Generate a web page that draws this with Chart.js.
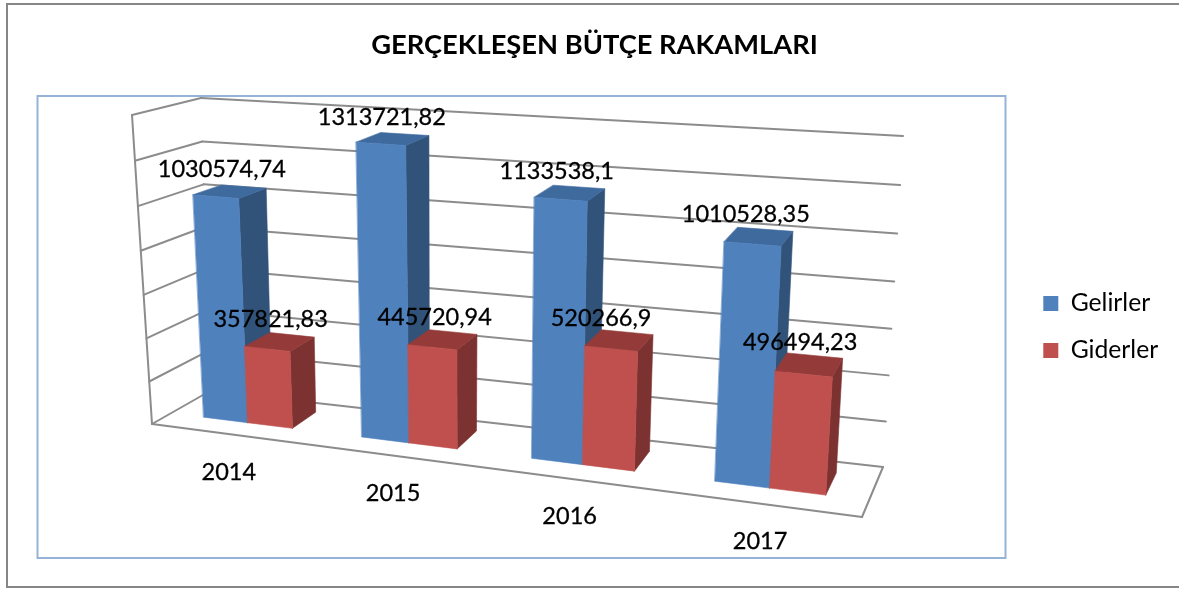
<!DOCTYPE html>
<html>
<head>
<meta charset="utf-8">
<style>
  html, body { margin: 0; padding: 0; background: #fff; }
  #wrap { width: 1179px; height: 590px; }
</style>
<script src="https://cdn.jsdelivr.net/npm/chart.js@4/dist/chart.umd.min.js"></script>
</head>
<body>
<div id="wrap"><canvas id="budget" width="1179" height="590"></canvas></div>
<script>
const years = ["2014", "2015", "2016", "2017"];
const gelirler = [1030574.74, 1313721.82, 1133538.1, 1010528.35];
const giderler = [357821.83, 445720.94, 520266.9, 496494.23];
const gelirlerText = ["1030574,74", "1313721,82", "1133538,1", "1010528,35"];
const giderlerText = ["357821,83", "445720,94", "520266,9", "496494,23"];
const axisMax = 1400000;
const axisStep = 200000;

// corners of the 3D box on screen (front/back, left/right, bottom/top)
const box = {
  fLB: [152, 424], fRB: [862, 517], fLT: [132, 115], fRT: [884, 165],
  bLB: [210, 391], bRB: [883, 467], bLT: [201, 98], bRT: [903, 136]
};
const barDepth = [0.33, 0.78];
const gridColor = "#8c8c8c";
const faces = [
  { front: "#4F81BD", top: "#3F6A9E", side: "#325379" },
  { front: "#C0504D", top: "#943B39", side: "#7C3230" }
];
// small nudges of the value labels, per series
const labelShiftX = [[-8, -11, -13, -13], [-9, -8, -18, -9]];
const labelShiftY = [-22, -22];

function mix(a, b, k) {
  return [a[0] + (b[0] - a[0]) * k, a[1] + (b[1] - a[1]) * k];
}

// t: 0..1 across the x axis, v: 0..1 up the y axis, d: 0 front .. 1 back
function project(t, v, d) {
  const u = t / (t + (1 - t) * 1.16);
  const h = v / (v + (1 - v) * 1.045);
  const front = mix(mix(box.fLB, box.fRB, u), mix(box.fLT, box.fRT, u), h);
  const back = mix(mix(box.bLB, box.bRB, u), mix(box.bLT, box.bRT, u), h);
  return mix(front, back, d);
}

function poly(ctx, pts, color) {
  ctx.beginPath();
  pts.forEach((p, i) => (i ? ctx.lineTo(p[0], p[1]) : ctx.moveTo(p[0], p[1])));
  ctx.closePath();
  ctx.fillStyle = color;
  ctx.strokeStyle = color;
  ctx.lineWidth = 0.6;
  ctx.fill();
  ctx.stroke();
}

function line(ctx, a, b) {
  ctx.beginPath();
  ctx.moveTo(a[0], a[1]);
  ctx.lineTo(b[0], b[1]);
  ctx.stroke();
}

function label(ctx, text, x, y) {
  ctx.fillText(text, x, y);
  ctx.strokeText(text, x, y);
}

const perspective = {
  id: "perspective",
  afterLayout(chart) {
    chart.titleBlock.left += 5;
    chart.titleBlock.right += 5;
    chart.legend.left = 1021;
    chart.legend.right = 1179;
    chart.legend.top += 32;
    chart.legend.bottom += 32;
  },
  beforeDraw(chart) {
    const ctx = chart.ctx;
    ctx.save();
    ctx.fillStyle = "#fff";
    ctx.fillRect(0, 0, chart.width, chart.height);
    ctx.lineWidth = 2;
    ctx.strokeStyle = "#868686";
    // the outer frame runs off the right edge of the picture
    ctx.beginPath();
    ctx.moveTo(1179, 4);
    ctx.lineTo(7, 4);
    ctx.lineTo(7, 587);
    ctx.lineTo(1179, 587);
    ctx.stroke();
    ctx.strokeStyle = "#95B3D7";
    ctx.strokeRect(37.5, 96, 968, 462);
    ctx.restore();
  },
  beforeDatasetsDraw(chart) {
    const ctx = chart.ctx;
    const area = chart.chartArea;
    const ys = chart.scales.y;
    const toT = x => (x - area.left) / area.width;
    const toV = y => (area.bottom - y) / area.height;

    ctx.save();
    ctx.lineCap = "round";
    ctx.lineJoin = "round";
    ctx.strokeStyle = gridColor;
    ctx.lineWidth = 2;
    ys.ticks.forEach(tick => {
      const v = toV(ys.getPixelForValue(tick.value));
      line(ctx, project(0, v, 0), project(0, v, 1));
      line(ctx, project(0, v, 1), project(1, v, 1));
    });
    line(ctx, project(0, 0, 0), project(0, 1, 0));
    line(ctx, project(0, 0, 0), project(1, 0, 0));
    line(ctx, project(1, 0, 0), project(1, 0, 1));

    years.forEach((year, j) => {
      chart.data.datasets.forEach((ds, i) => {
        const el = chart.getDatasetMeta(i).data[j];
        const l = toT(el.x - el.width / 2);
        const r = toT(el.x + el.width / 2);
        const v = toV(el.y);
        const c = faces[i];
        const [d0, d1] = barDepth;
        poly(ctx, [project(r, 0, d0), project(r, 0, d1), project(r, v, d1), project(r, v, d0)], c.side);
        poly(ctx, [project(l, v, d0), project(r, v, d0), project(r, v, d1), project(l, v, d1)], c.top);
        poly(ctx, [project(l, 0, d0), project(r, 0, d0), project(r, v, d0), project(l, v, d0)], c.front);
      });
    });
    ctx.restore();
    return false;
  },
  afterDraw(chart) {
    const ctx = chart.ctx;
    const area = chart.chartArea;
    const toT = x => (x - area.left) / area.width;
    const toV = y => (area.bottom - y) / area.height;

    ctx.save();
    ctx.font = "23.5px Lato";
    ctx.fillStyle = "#000";
    ctx.strokeStyle = "#000";
    ctx.lineWidth = 0.3;
    ctx.textAlign = "center";
    ctx.textBaseline = "middle";
    years.forEach((year, j) => {
      const p = project(toT(chart.scales.x.getPixelForTick(j)), 0, 0);
      label(ctx, year, p[0] - 1, p[1] + 38);
    });
    [gelirlerText, giderlerText].forEach((texts, i) => {
      texts.forEach((text, j) => {
        const el = chart.getDatasetMeta(i).data[j];
        const p = project(toT(el.x), toV(el.y), (barDepth[0] + barDepth[1]) / 2);
        label(ctx, text, p[0] + labelShiftX[i][j], p[1] + labelShiftY[i]);
      });
    });
    ctx.restore();
  }
};

new Chart(document.getElementById("budget"), {
  type: "bar",
  data: {
    labels: years,
    datasets: [
      { label: "Gelirler", data: gelirler, backgroundColor: faces[0].front, borderWidth: 0 },
      { label: "Giderler", data: giderler, backgroundColor: faces[1].front, borderWidth: 0 }
    ]
  },
  options: {
    responsive: false,
    animation: false,
    categoryPercentage: 0.57,
    barPercentage: 1,
    scales: {
      x: { display: false },
      y: { display: false, min: 0, max: axisMax, ticks: { stepSize: axisStep } }
    },
    plugins: {
      title: {
        display: true,
        text: "GERÇEKLEŞEN BÜTÇE RAKAMLARI",
        color: "#000",
        font: { family: "Lato", size: 27.3, weight: "bold" },
        padding: { top: 29, bottom: 34 }
      },
      legend: {
        position: "right",
        labels: {
          color: "#000",
          font: { family: "Lato", size: 24.7 },
          boxWidth: 15,
          boxHeight: 15,
          padding: 22.3
        }
      },
      tooltip: { enabled: false }
    }
  },
  plugins: [perspective]
});
</script>
</body>
</html>
